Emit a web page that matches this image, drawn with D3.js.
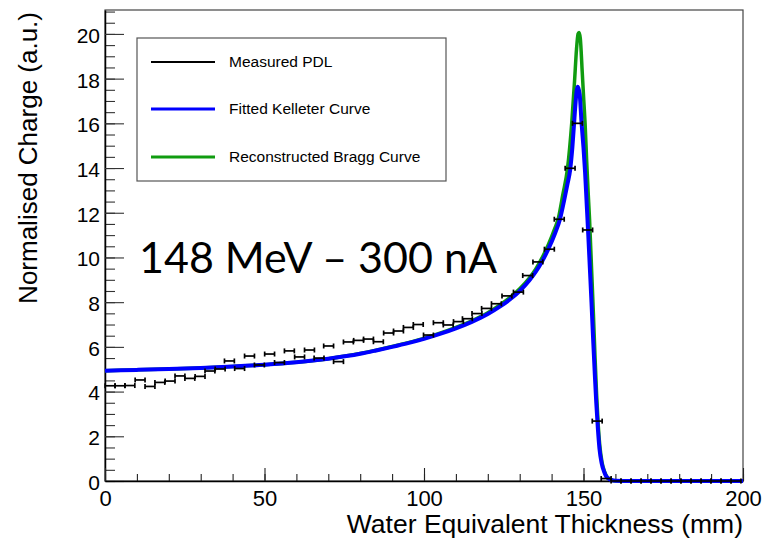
<!DOCTYPE html>
<html>
<head>
<meta charset="utf-8">
<script src="https://cdn.jsdelivr.net/npm/d3@7"></script>
<style>
  html, body { margin: 0; padding: 0; background: #fff; }
  svg { display: block; }
  .axis text { font-family: "Liberation Sans", Arial, Helvetica, sans-serif; fill: #000; }
</style>
</head>
<body>
<svg id="chart" width="766" height="542"></svg>
<script>
// Measured depth-dose points (water equivalent thickness in mm, normalised charge)
const pdlX = [1.6, 4.7, 7.8, 11.0, 14.1, 17.2, 20.4, 23.5, 26.6, 29.8, 32.9, 36.1, 39.0, 42.2, 45.3,
  48.4, 51.6, 54.7, 57.8, 61.0, 64.1, 67.1, 70.1, 73.2, 76.3, 79.5, 82.6, 85.7, 88.9, 92.0,
  95.1, 98.2, 101.4, 104.5, 107.6, 110.8, 113.6, 116.6, 119.6, 122.7, 126.0, 129.6, 132.5, 135.7, 139.3,
  142.4, 145.8, 148.1, 151.3, 154.3, 157.1, 160.2, 163.3, 166.5, 169.6, 172.7, 175.9, 179.0, 182.1,
  185.3, 188.4, 191.5, 194.7, 197.8];
const pdlY = [4.26, 4.26, 4.27, 4.52, 4.23, 4.41, 4.47, 4.70, 4.59, 4.68, 4.92, 5.01, 5.37, 5.03, 5.59,
  5.19, 5.68, 5.30, 5.82, 5.55, 5.86, 5.50, 6.04, 5.34, 6.22, 6.29, 6.35, 6.23, 6.62, 6.71,
  6.87, 7.00, 6.53, 7.08, 6.98, 7.13, 7.26, 7.49, 7.72, 7.93, 8.28, 8.45, 9.19, 9.80, 10.37,
  11.71, 13.99, 16.00, 11.23, 2.68, 0.11, 0, 0, 0, 0, 0, 0, 0, 0, 0, 0, 0, 0, 0];
const pdlXErr = 1.55;

// Fitted Kelleter curve
const kelleterX = [0, 10, 20, 30, 40, 50, 60, 70, 80, 85, 90, 95, 100, 105, 110, 115, 120, 124, 127, 130,
  133, 135, 137, 139, 141, 142.6, 144, 145, 145.8, 146.5, 147.0, 147.5, 147.9, 148.2, 148.8, 149.4,
  150.0, 150.5, 151.0, 151.5, 152.0, 152.5, 153.0, 153.5, 154.0, 154.5, 155.0, 155.7, 156.5, 157.2,
  158.5, 160, 165, 200];
const kelleterY = [4.93, 4.97, 5.01, 5.06, 5.12, 5.20, 5.31, 5.47, 5.69, 5.84, 6.00, 6.17, 6.36, 6.58,
  6.83, 7.12, 7.47, 7.82, 8.13, 8.50, 8.97, 9.35, 9.82, 10.38, 11.05, 11.7, 12.6, 13.3, 13.9, 14.9,
  15.9, 16.9, 17.5, 17.64, 17.3, 16.0, 14.9, 13.8, 12.4, 11.0, 9.5, 8.0, 6.4, 4.9, 3.5, 2.35, 1.45,
  0.79, 0.40, 0.19, 0.06, 0.01, 0, 0];

// Reconstructed Bragg curve
const braggX = [0, 10, 20, 30, 40, 50, 60, 70, 80, 85, 90, 95, 100, 105, 110, 115, 120, 124, 127, 130,
  133, 135, 137, 139, 141, 142.1, 143.5, 145, 146.3, 147.2, 147.8, 148.3, 148.6, 149.0, 149.6, 150.1,
  150.5, 151.0, 151.5, 151.9, 152.5, 153.1, 153.6, 154.1, 154.6, 155.1, 155.8, 156.6, 157.4, 158.6,
  160, 165, 200];
const braggY = [4.93, 4.97, 5.01, 5.06, 5.12, 5.20, 5.31, 5.47, 5.70, 5.85, 6.02, 6.19, 6.38, 6.61,
  6.87, 7.17, 7.53, 7.90, 8.22, 8.60, 9.08, 9.48, 9.98, 10.58, 11.3, 11.75, 12.8, 14.0, 16.0, 17.9,
  19.3, 20.0, 20.06, 19.8, 18.3, 17.0, 16.0, 14.3, 12.8, 11.7, 9.6, 7.5, 5.6, 3.9, 2.55, 1.6, 0.85,
  0.42, 0.18, 0.06, 0.01, 0, 0];

const xMajorTicks = [0, 50, 100, 150, 200];
const yMajorTicks = [0, 2, 4, 6, 8, 10, 12, 14, 16, 18, 20];
const xDomain = [0, 200];
const yDomain = [0, 21.07];

const legendLabels = ["Measured PDL", "Fitted Kelleter Curve", "Reconstructed Bragg Curve"];
const seriesColors = ["#000000", "#0000ff", "#109c10"];

const annotation = "148 MeV \u2013 300 nA";

// ---- layout ----
const frame = { left: 105, top: 10, right: 743, bottom: 481 };
const svg = d3.select("#chart");
const x = d3.scaleLinear().domain(xDomain).range([frame.left, frame.right]);
const y = d3.scaleLinear().domain(yDomain).range([frame.bottom, frame.top]);

// frame
svg.append("rect")
  .attr("x", frame.left).attr("y", frame.top)
  .attr("width", frame.right - frame.left).attr("height", frame.bottom - frame.top)
  .attr("fill", "none").attr("stroke", "#444").attr("stroke-width", 1.2);

// y axis: major + minor ticks pointing into the frame
const yMinor = d3.range(0, 21.01, 0.5);
svg.append("g").attr("class", "axis")
  .attr("transform", `translate(${frame.left},0)`)
  .call(d3.axisLeft(y).tickValues(yMinor).tickSize(-10).tickSizeOuter(0).tickFormat(""))
  .call(g => g.select(".domain").remove())
  .call(g => g.selectAll("line").attr("stroke", "#333").attr("stroke-width", 1.1));
const yAx = svg.append("g").attr("class", "axis")
  .attr("transform", `translate(${frame.left},0)`)
  .call(d3.axisLeft(y).tickValues(yMajorTicks).tickSize(-19).tickSizeOuter(0).tickPadding(5).tickFormat(d3.format("d")));
yAx.select(".domain").attr("stroke", "#000").attr("stroke-width", 1.5);
yAx.selectAll("line").attr("stroke", "#333").attr("stroke-width", 1.1);
yAx.selectAll("text").attr("font-size", 21).attr("dy", "0.40em");

// x axis
const xMinor = d3.range(0, 200.01, 10);
svg.append("g").attr("class", "axis")
  .attr("transform", `translate(0,${frame.bottom})`)
  .call(d3.axisBottom(x).tickValues(xMinor).tickSize(-7).tickSizeOuter(0).tickFormat(""))
  .call(g => g.select(".domain").remove())
  .call(g => g.selectAll("line").attr("stroke", "#222").attr("stroke-width", 1.1));
const xAx = svg.append("g").attr("class", "axis")
  .attr("transform", `translate(0,${frame.bottom})`)
  .call(d3.axisBottom(x).tickValues(xMajorTicks).tickSize(-13).tickSizeOuter(0).tickPadding(9).tickFormat(d3.format("d")));
xAx.select(".domain").attr("stroke", "#000").attr("stroke-width", 1.5);
xAx.selectAll("line").attr("stroke", "#222").attr("stroke-width", 1.1);
xAx.selectAll("text").attr("font-size", 22);

// axis titles
svg.append("text")
  .attr("x", frame.right).attr("y", 533)
  .attr("text-anchor", "end")
  .attr("font-family", "Liberation Sans, Arial, sans-serif")
  .attr("font-size", 26.5)
  .text("Water Equivalent Thickness (mm)");
svg.append("text")
  .attr("transform", "translate(37,12) rotate(-90)")
  .attr("text-anchor", "end")
  .attr("font-family", "Liberation Sans, Arial, sans-serif")
  .attr("font-size", 26)
  .text("Normalised Charge (a.u.)");

// curves
const toPts = (xs, ys) => xs.map((v, i) => [v, ys[i]]);
const line = d3.line().x(d => x(d[0])).y(d => y(d[1])).curve(d3.curveMonotoneX);
svg.append("path")
  .attr("d", line(toPts(braggX, braggY)))
  .attr("fill", "none").attr("stroke", seriesColors[2]).attr("stroke-width", 3.5)
  .attr("stroke-linejoin", "round");
svg.append("path")
  .attr("d", line(toPts(kelleterX, kelleterY)))
  .attr("fill", "none").attr("stroke", seriesColors[1]).attr("stroke-width", 4)
  .attr("stroke-linejoin", "round");

// measured points with horizontal error bars
const pts = svg.append("g").selectAll("g").data(toPts(pdlX, pdlY)).join("g")
  .attr("stroke", seriesColors[0]).attr("stroke-width", 1.7);
pts.append("line")
  .attr("x1", d => x(d[0] - pdlXErr)).attr("x2", d => x(d[0] + pdlXErr))
  .attr("y1", d => y(d[1])).attr("y2", d => y(d[1]));
pts.append("line")
  .attr("x1", d => x(d[0] - pdlXErr)).attr("x2", d => x(d[0] - pdlXErr))
  .attr("y1", d => y(d[1]) - 2.5).attr("y2", d => y(d[1]) + 2.5);
pts.append("line")
  .attr("x1", d => x(d[0] + pdlXErr)).attr("x2", d => x(d[0] + pdlXErr))
  .attr("y1", d => y(d[1]) - 2.5).attr("y2", d => y(d[1]) + 2.5);

// legend
const leg = { x: 137, y: 38, w: 309, h: 143 };
svg.append("rect")
  .attr("x", leg.x).attr("y", leg.y).attr("width", leg.w).attr("height", leg.h)
  .attr("fill", "#fff").attr("stroke", "#555").attr("stroke-width", 1.2);
const legRowY = [62, 109, 157];
const legWidths = [2, 3.2, 3.2];
legendLabels.forEach((lab, i) => {
  svg.append("line")
    .attr("x1", 151).attr("x2", 215).attr("y1", legRowY[i]).attr("y2", legRowY[i])
    .attr("stroke", seriesColors[i]).attr("stroke-width", legWidths[i]);
  svg.append("text")
    .attr("x", 229).attr("y", legRowY[i]).attr("dy", "0.35em")
    .attr("font-family", "Liberation Sans, Arial, sans-serif")
    .attr("font-size", 15.5)
    .text(lab);
});

// beam annotation
svg.append("text")
  .attr("x", 139).attr("y", 273)
  .attr("font-family", "Lato, 'Open Sans', sans-serif")
  .attr("font-size", 43)
  .attr("fill", "#000")
  .text(annotation);
</script>
</body>
</html>
